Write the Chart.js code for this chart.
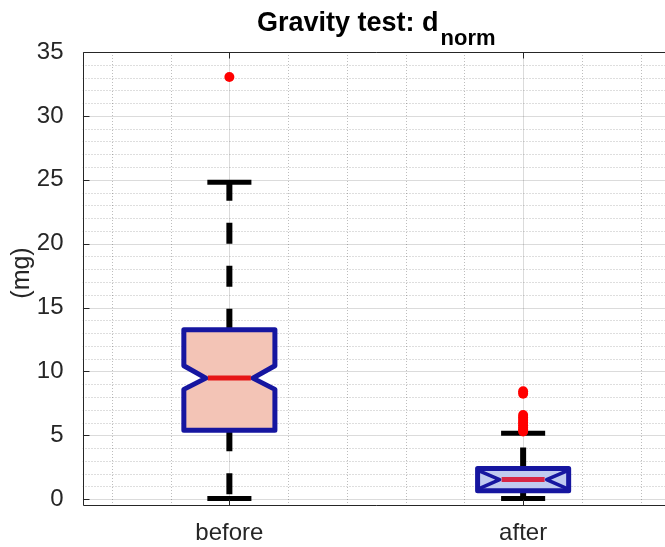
<!DOCTYPE html>
<html>
<head>
<meta charset="utf-8">
<script src="https://cdn.jsdelivr.net/npm/chart.js@4.4.0/dist/chart.umd.min.js"></script>
<style>
  html, body { margin: 0; padding: 0; background: #fff; overflow: hidden; width: 665px; height: 547px; }
  canvas { display: block; }
</style>
</head>
<body>
<canvas id="chart" width="675" height="547"></canvas>
<script>
// Box statistics per group (mg)
const categories  = ['before', 'after'];
const whiskerLow  = [0.05, 0.05];
const q1          = [5.4, 0.66];
const notchLow    = [8.6, 0.62];
const median      = [9.48, 1.54];
const notchHigh   = [10.45, 2.44];
const q3          = [13.27, 2.4];
const whiskerHigh = [24.8, 5.16];
const outliers    = [
  [33.05],
  [5.3, 5.45, 5.6, 5.8, 6.0, 6.2, 6.4, 6.6, 8.25, 8.45]
];
const yTicks = [0, 5, 10, 15, 20, 25, 30, 35];

// Drawing styles
const boxFill     = ['rgb(243,196,182)', 'rgb(192,202,240)'];
const medianColor = ['rgb(230,22,22)', 'rgb(214,38,70)'];
const edgeColor   = 'rgb(22,22,160)';
const axisColor   = '#262626';
const boxHalf = 0.155, notchHalf = 0.08, capHalf = 0.075;
const FONT = "'Liberation Sans', Arial, Helvetica, sans-serif";

Chart.defaults.font.family = FONT;

const outlierPoints = [];
outliers.forEach((vals, i) => vals.forEach(v => outlierPoints.push({ x: i + 1, y: v })));

function seg(ctx, x0, y0, x1, y1) {
  ctx.beginPath(); ctx.moveTo(x0, y0); ctx.lineTo(x1, y1); ctx.stroke();
}

// Grid, notched boxes and whiskers, drawn under the outlier markers
const boxPlotLayer = {
  id: 'boxPlotLayer',
  beforeDatasetsDraw(chart) {
    const { ctx, chartArea: a, scales: { x, y } } = chart;
    ctx.save();
    ctx.beginPath(); ctx.rect(a.left, a.top, a.right - a.left, a.bottom - a.top); ctx.clip();

    // minor grid (dotted)
    ctx.lineWidth = 1;
    ctx.strokeStyle = 'rgba(0,0,0,0.26)';
    ctx.setLineDash([1, 2]);
    for (let v = 0; v <= 35; v++) {
      if (v % 5 === 0) continue;
      const py = Math.round(y.getPixelForValue(v)) + 0.5;
      seg(ctx, a.left, py, a.right, py);
    }
    for (let k = 3; k <= 12; k++) {
      if (k % 5 === 0) continue;
      const px = Math.round(x.getPixelForValue(k / 5)) + 0.5;
      seg(ctx, px, a.top, px, a.bottom);
    }
    // major grid (solid)
    ctx.setLineDash([]);
    ctx.strokeStyle = 'rgba(0,0,0,0.14)';
    yTicks.forEach(v => {
      const py = Math.round(y.getPixelForValue(v)) + 0.5;
      seg(ctx, a.left, py, a.right, py);
    });
    categories.forEach((c, i) => {
      const px = Math.round(x.getPixelForValue(i + 1)) + 0.5;
      seg(ctx, px, a.top, px, a.bottom);
    });

    // boxes
    const Y = v => y.getPixelForValue(v);
    categories.forEach((c, i) => {
      const pos = i + 1;
      const cx = x.getPixelForValue(pos);
      const L = x.getPixelForValue(pos - boxHalf), R = x.getPixelForValue(pos + boxHalf);
      const Li = x.getPixelForValue(pos - notchHalf), Ri = x.getPixelForValue(pos + notchHalf);

      // dashed whiskers
      ctx.strokeStyle = '#000';
      ctx.lineWidth = 6;
      ctx.lineCap = 'butt';
      ctx.setLineDash([21, 22]);
      seg(ctx, cx, Y(q3[i]), cx, Y(whiskerHigh[i]));
      seg(ctx, cx, Y(q1[i]), cx, Y(whiskerLow[i]));
      ctx.setLineDash([]);
      // whisker caps
      ctx.lineWidth = 5;
      const cl = x.getPixelForValue(pos - capHalf), cr = x.getPixelForValue(pos + capHalf);
      seg(ctx, cl, Y(whiskerHigh[i]), cr, Y(whiskerHigh[i]));
      seg(ctx, cl, Y(whiskerLow[i]), cr, Y(whiskerLow[i]));

      ctx.lineJoin = 'round';
      ctx.strokeStyle = edgeColor;
      const folded = notchLow[i] <= q1[i] && notchHigh[i] >= q3[i];
      if (folded) {
        // notch reaches past the quartiles: box plus crossing notch lines
        const top = Y(q3[i]), bot = Y(q1[i]), my = Y(median[i]);
        ctx.fillStyle = boxFill[i];
        ctx.fillRect(L, top, R - L, bot - top);
        ctx.lineWidth = 5;
        ctx.strokeRect(L, top, R - L, bot - top);
        ctx.lineWidth = 3.5;
        ctx.beginPath();
        ctx.moveTo(L + 1, top + 2); ctx.lineTo(Li, my); ctx.lineTo(L + 1, bot - 2);
        ctx.moveTo(R - 1, top + 2); ctx.lineTo(Ri, my); ctx.lineTo(R - 1, bot - 2);
        ctx.stroke();
      } else {
        const pts = [
          [L, Y(q1[i])], [L, Y(notchLow[i])], [Li, Y(median[i])], [L, Y(notchHigh[i])], [L, Y(q3[i])],
          [R, Y(q3[i])], [R, Y(notchHigh[i])], [Ri, Y(median[i])], [R, Y(notchLow[i])], [R, Y(q1[i])]
        ];
        ctx.beginPath();
        pts.forEach((p, k) => k ? ctx.lineTo(p[0], p[1]) : ctx.moveTo(p[0], p[1]));
        ctx.closePath();
        ctx.fillStyle = boxFill[i];
        ctx.fill();
        ctx.lineWidth = 5;
        ctx.stroke();
      }

      // median
      ctx.strokeStyle = medianColor[i];
      ctx.lineWidth = 5;
      seg(ctx, Li + 2, Y(median[i]), Ri - 2, Y(median[i]));
    });
    ctx.restore();
  },
  afterDatasetsDraw(chart) {
    const { ctx, chartArea: a, scales: { x, y } } = chart;
    ctx.save();
    ctx.strokeStyle = axisColor;
    ctx.lineWidth = 1;
    ctx.setLineDash([]);
    const l = Math.round(a.left) + 0.5, b = Math.round(a.bottom) + 0.5, t = Math.round(a.top) + 0.5;
    seg(ctx, l, t, a.right, t);
    seg(ctx, l, b, a.right, b);
    seg(ctx, l, t, l, b);
    // inward tick marks
    yTicks.forEach(v => {
      const py = Math.round(y.getPixelForValue(v)) + 0.5;
      seg(ctx, l, py, l + 6, py);
    });
    categories.forEach((c, i) => {
      const px = Math.round(x.getPixelForValue(i + 1)) + 0.5;
      seg(ctx, px, t, px, t + 6);
      seg(ctx, px, b, px, b - 6);
    });

    // y-axis label
    ctx.save();
    ctx.translate(22, 273);
    ctx.rotate(-Math.PI / 2);
    ctx.fillStyle = axisColor;
    ctx.font = `25px ${FONT}`;
    ctx.textAlign = 'center';
    ctx.textBaseline = 'middle';
    ctx.fillText('(mg)', 0, 0);
    ctx.restore();

    // title with subscript
    const main = 'Gravity test: d', sub = 'norm';
    ctx.fillStyle = '#000';
    ctx.textBaseline = 'alphabetic';
    ctx.font = `bold 27px ${FONT}`;
    const w1 = ctx.measureText(main).width;
    ctx.font = `bold 22px ${FONT}`;
    const w2 = ctx.measureText(sub).width;
    const cx = (a.left + a.right) / 2;
    const x0 = cx - (w1 + w2 + 2) / 2;
    ctx.font = `bold 27px ${FONT}`;
    ctx.textAlign = 'left';
    ctx.fillText(main, x0, 31);
    ctx.font = `bold 22px ${FONT}`;
    ctx.fillText(sub, x0 + w1 + 2, 45);
    ctx.restore();
  }
};

new Chart(document.getElementById('chart'), {
  type: 'scatter',
  data: {
    datasets: [{
      data: outlierPoints,
      pointRadius: 5,
      pointStyle: 'circle',
      pointBackgroundColor: '#ff0000',
      pointBorderWidth: 0
    }]
  },
  options: {
    responsive: false,
    animation: false,
    events: [],
    layout: { padding: { top: 52, right: 2.5, left: 0, bottom: 0 } },
    plugins: { legend: { display: false }, tooltip: { enabled: false }, title: { display: false } },
    scales: {
      x: {
        type: 'linear',
        min: 0.5, max: 2.5,
        grid: { display: false },
        border: { display: false },
        afterBuildTicks: s => { s.ticks = categories.map((c, i) => ({ value: i + 1 })); },
        afterFit: s => { s.height = 42; },
        ticks: {
          autoSkip: false, maxRotation: 0, padding: 6,
          color: axisColor,
          font: { size: 24 },
          callback: v => categories[Math.round(v) - 1] || ''
        }
      },
      y: {
        min: -0.45, max: 35,
        grid: { display: false },
        border: { display: false },
        afterBuildTicks: s => { s.ticks = yTicks.map(v => ({ value: v })); },
        afterFit: s => { s.width = 82.5; },
        ticks: { padding: 11, color: axisColor, font: { size: 24 } },
        title: { display: false }
      }
    }
  },
  plugins: [boxPlotLayer]
});
</script>
</body>
</html>
